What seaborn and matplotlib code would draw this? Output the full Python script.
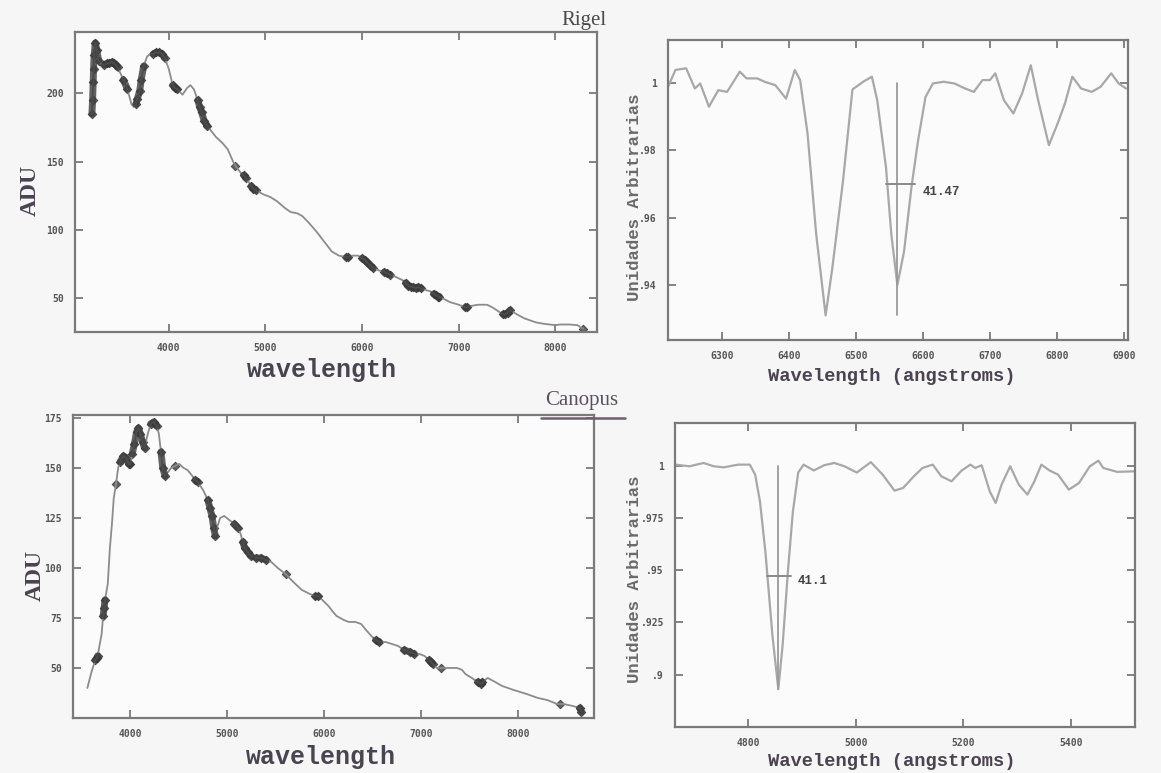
import numpy as np
import pandas as pd
import seaborn as sns
import matplotlib.pyplot as plt
from matplotlib.lines import Line2D

# %%
# Rigel, full spectrum (wavelength, ADU)
rigel_wl = [3205, 3212, 3218, 3222, 3228, 3240, 3255, 3275, 3310, 3335, 3360, 3385, 3411, 3430,
            3450, 3470, 3492, 3530, 3573, 3614, 3640, 3660, 3675, 3700, 3715, 3740, 3776, 3810,
            3840, 3870, 3898, 3930, 3959, 4000, 4041, 4065, 4090, 4142, 4190, 4224, 4260, 4300,
            4320, 4340, 4366, 4400, 4488, 4550, 4610, 4671, 4690, 4710, 4752, 4775, 4800, 4854,
            4875, 4900, 4976, 5050, 5118, 5200, 5260, 5330, 5382, 5450, 5524, 5600, 5687, 5760,
            5829, 5850, 5900, 5960, 6000, 6025, 6050, 6080, 6114, 6180, 6230, 6256, 6290, 6330,
            6419, 6450, 6480, 6505, 6530, 6555, 6580, 6610, 6640, 6700, 6740, 6764, 6790, 6800,
            6906, 7000, 7069, 7090, 7120, 7200, 7293, 7350, 7435, 7460, 7480, 7505, 7530, 7600,
            7679, 7800, 7882, 8000, 8045, 8150, 8228, 8270, 8290]
rigel_adu = [185, 195, 208, 218, 228, 237, 232, 224, 221, 221, 222, 222, 223, 222,
             221, 219, 216, 210, 203, 192, 190, 192, 196, 202, 210, 220, 227, 229,
             229, 230, 230, 229, 226, 218, 206, 204, 203, 199, 204, 206, 203, 195,
             190, 186, 180, 176, 168, 164, 159, 149, 147, 145, 141, 140, 138, 132,
             130, 129, 126, 124, 121, 116, 113, 112, 110, 105, 99, 92, 84, 81,
             80, 80, 81, 81, 79, 78, 76, 74, 72, 70, 69, 68, 67, 66,
             63, 61, 59, 58, 58, 57, 58, 57, 56, 55, 53, 52, 51, 51,
             47, 45, 43, 43, 44, 45, 45, 43, 39, 38, 38, 39, 41, 38,
             35, 32, 31, 30, 30.5, 30.5, 30, 28, 27.5]
rigel_marked = [(3205, 3300), (3330, 3470), (3520, 3600), (3660, 3740), (3820, 3960),
                (4030, 4100), (4290, 4400), (4680, 4700), (4760, 4800), (4850, 4900),
                (5820, 5860), (5990, 6120), (6230, 6300), (6440, 6620), (6740, 6800),
                (7060, 7100), (7450, 7530), (8280, 8300)]

# Canopus, full spectrum (wavelength, ADU)
canopus_wl = [3558, 3600, 3640, 3655, 3663, 3705, 3720, 3730, 3739, 3768, 3790, 3811, 3830,
              3853, 3875, 3895, 3930, 3958, 3985, 4000, 4020, 4042, 4065, 4084, 4105, 4126,
              4147, 4180, 4210, 4240, 4274, 4295, 4316, 4335, 4358, 4390, 4421, 4460, 4505,
              4550, 4589, 4640, 4670, 4695, 4750, 4800, 4820, 4842, 4860, 4876, 4900, 4926,
              4968, 5020, 5074, 5110, 5137, 5160, 5179, 5210, 5242, 5300, 5347, 5400, 5453,
              5520, 5600, 5680, 5768, 5850, 5900, 5937, 6000, 6042, 6090, 6126, 6200, 6253,
              6320, 6379, 6430, 6484, 6530, 6568, 6630, 6695, 6760, 6821, 6880, 6926, 6980,
              7032, 7080, 7100, 7116, 7160, 7200, 7280, 7368, 7420, 7453, 7520, 7580, 7610,
              7630, 7684, 7760, 7832, 7950, 8084, 8200, 8295, 8400, 8430, 8463, 8560, 8632,
              8650]
canopus_adu = [40, 48, 54, 55, 56, 67, 76, 80, 84, 92, 110, 122, 135,
               142, 150, 153, 156, 155, 152, 152, 157, 162, 168, 170, 167, 163,
               160, 167, 172, 173, 171, 167, 158, 150, 146, 148, 150, 151, 152,
               150, 149, 146, 144, 143, 139, 134, 130, 126, 120, 116, 121, 125,
               126, 124, 122, 120, 117, 113, 110, 108, 106, 105, 105, 104, 103,
               100, 97, 93, 89, 87, 86, 86, 83, 81, 78, 76, 74, 73,
               73, 72, 69, 66, 64, 63, 63, 62, 61, 59, 58, 57, 57,
               56, 54, 53, 52, 50, 50, 50, 50, 49, 47, 45, 43, 42,
               43, 45, 43, 41, 39, 37, 35, 34, 32, 32, 32, 31, 30,
               28]
canopus_marked = [(3640, 3670), (3720, 3745), (3840, 3870), (3880, 4000), (4020, 4160),
                  (4200, 4290), (4300, 4380), (4430, 4470), (4650, 4700), (4800, 4890),
                  (5050, 5130), (5150, 5250), (5280, 5450), (5580, 5620), (5880, 5960),
                  (6500, 6600), (6780, 6960), (7080, 7120), (7190, 7210), (7580, 7650),
                  (8420, 8450), (8630, 8660)]

# Rigel, H-alpha region (normalised)
ha_wl = [6220, 6231, 6247, 6260, 6268, 6281, 6295, 6308, 6316, 6327, 6337, 6353, 6364, 6380,
         6396, 6409, 6417, 6428, 6441, 6455, 6465, 6481, 6495, 6511, 6524, 6532, 6545, 6553,
         6562, 6572, 6583, 6593, 6604, 6615, 6631, 6647, 6663, 6676, 6689, 6700, 6708, 6721,
         6735, 6748, 6761, 6772, 6788, 6801, 6812, 6823, 6836, 6852, 6865, 6881, 6892, 6903]
ha_flux = [0.9988, 1.0038, 1.0043, 0.9983, 0.9998, 0.9929, 0.9978, 0.9973, 0.9998, 1.0033,
           1.0013, 1.0013, 1.0003, 0.9993, 0.9953, 1.0038, 1.0008, 0.985, 0.955, 0.931,
           0.945, 0.971, 0.998, 1.0003, 1.0018, 0.9948, 0.975, 0.955, 0.9400, 0.950,
           0.969, 0.983, 0.9958, 0.9998, 1.0003, 0.9998, 0.9983, 0.9973, 1.0008, 1.0008,
           1.0028, 0.9948, 0.9909, 0.9968, 1.0052, 0.9948, 0.9815, 0.9879, 0.9939, 1.0018,
           0.9983, 0.9973, 0.9988, 1.0028, 0.9998, 0.9983]
ha_center = 6562
ha_fwhm_lo, ha_fwhm_hi, ha_half = 6545, 6588, 0.9699
ha_label = "41.47"

# Canopus, H-beta region (normalised)
hb_wl = [4665, 4691, 4717, 4736, 4755, 4781, 4803, 4813, 4822, 4832, 4845, 4856, 4864, 4874,
         4883, 4893, 4903, 4922, 4941, 4960, 4979, 5002, 5028, 5050, 5072, 5088, 5108, 5124,
         5143, 5159, 5178, 5197, 5213, 5222, 5234, 5249, 5260, 5271, 5287, 5303, 5319, 5332,
         5345, 5360, 5376, 5396, 5415, 5435, 5451, 5460, 5486, 5518]
hb_flux = [1.0008, 1.0, 1.0016, 1.0, 0.9995, 1.0008, 1.0008, 0.996, 0.983, 0.959, 0.919,
           0.893, 0.914, 0.950, 0.978, 0.997, 1.0008, 0.998, 1.0005, 1.0016, 1.0, 0.997,
           1.002, 0.996, 0.9883, 0.9896, 0.9952, 0.9992, 1.0008, 0.9952, 0.9928, 0.998,
           1.0008, 0.9992, 1.0005, 0.988, 0.9824, 0.9912, 1.0, 0.9912, 0.9864, 0.9928,
           1.0008, 0.998, 0.996, 0.9888, 0.992, 1.0, 1.0027, 0.9992, 0.9973, 0.9976]
hb_center = 4856
hb_fwhm_lo, hb_fwhm_hi, hb_half = 4835, 4880, 0.9471
hb_label = "41.1"

# %%
sns.set_theme(style="ticks")
plt.rcParams["font.family"] = ["DejaVu Sans Mono", "DejaVu Sans"]

frame_c = "#7a7a7a"
line_c = "#8c8c8c"
mark_c = "#3c3c3c"
text_c = "#4a4450"

fig = plt.figure(figsize=(11.61, 7.73), dpi=100, facecolor="#f6f6f6")
ax1 = fig.add_axes([0.0646, 0.5705, 0.4496, 0.3881])
ax2 = fig.add_axes([0.5754, 0.5602, 0.3962, 0.3881])
ax3 = fig.add_axes([0.0629, 0.0712, 0.4488, 0.3920])
ax4 = fig.add_axes([0.5814, 0.0595, 0.3962, 0.3933])


def style_axes(ax):
    ax.set_facecolor("#fbfbfb")
    for sp in ax.spines.values():
        sp.set_color(frame_c)
        sp.set_linewidth(1.6)
    ax.tick_params(direction="in", top=True, right=True, length=6, width=1.3,
                   color=frame_c, labelcolor="#555555", labelsize=7, pad=8)
    for lab in ax.get_xticklabels() + ax.get_yticklabels():
        lab.set_fontweight("bold")


def full_spectrum(ax, wl, adu, marked):
    df = pd.DataFrame({"wl": wl, "adu": adu})
    sns.lineplot(data=df, x="wl", y="adu", sort=False, estimator=None,
                 color=line_c, lw=1.3, ax=ax)
    for lo, hi in marked:
        seg = df[(df.wl >= lo) & (df.wl <= hi)]
        if len(seg) > 1:
            ax.plot(seg.wl, seg.adu, color=mark_c, lw=5, alpha=0.8,
                    solid_capstyle="round")
        sns.scatterplot(data=seg, x="wl", y="adu", marker="D", s=20,
                        color=mark_c, edgecolor="#222222", linewidth=0.5,
                        alpha=0.8, ax=ax, legend=False)
    ax.set_xlabel("wavelength", fontsize=18, fontweight="bold", color=text_c,
                  family="Liberation Mono", va="center")
    ax.set_ylabel("ADU", fontsize=17, fontweight="bold", color=text_c,
                  family="Liberation Serif", va="center")


def line_region(ax, wl, flux, center, lo, hi, half, label):
    df = pd.DataFrame({"wl": wl, "flux": flux})
    sns.lineplot(data=df, x="wl", y="flux", sort=False, estimator=None,
                 color="#a8a8a8", lw=1.6, ax=ax)
    ax.plot([center, center], [1.0, min(flux)], color="#9a9a9a", lw=1.3)
    ax.plot([lo, hi], [half, half], color="#8a8a8a", lw=1.4)
    ax.text(hi + 12, half - 0.0023, label, fontsize=9, fontweight="bold",
            color="#444444", va="center", ha="left", family="Liberation Mono")
    ax.set_xlabel("Wavelength (angstroms)", fontsize=13.5, fontweight="bold",
                  color=text_c, family="Liberation Mono", va="center")
    ax.set_ylabel("Unidades Arbitrarias", fontsize=12.5, fontweight="bold",
                  color="#6a6a6a", family="Liberation Mono", va="center")


# %%
full_spectrum(ax1, rigel_wl, rigel_adu, rigel_marked)
ax1.set_xlim(3030, 8430)
ax1.set_ylim(25, 245)
ax1.set_xticks([4000, 5000, 6000, 7000, 8000])
ax1.set_yticks([50, 100, 150, 200])
ax1.xaxis.set_label_coords(0.473, -0.127)
ax1.yaxis.set_label_coords(-0.086, 0.473)
style_axes(ax1)

full_spectrum(ax3, canopus_wl, canopus_adu, canopus_marked)
ax3.set_xlim(3410, 8780)
ax3.set_ylim(25, 176.5)
ax3.set_xticks([4000, 5000, 6000, 7000, 8000])
ax3.set_yticks([50, 75, 100, 125, 150, 175])
ax3.xaxis.set_label_coords(0.476, -0.129)
ax3.yaxis.set_label_coords(-0.073, 0.472)
style_axes(ax3)

line_region(ax2, ha_wl, ha_flux, ha_center, ha_fwhm_lo, ha_fwhm_hi, ha_half, ha_label)
ax2.set_xlim(6220, 6906)
ax2.set_ylim(0.9237, 1.0127)
ax2.set_xticks([6300, 6400, 6500, 6600, 6700, 6800, 6900])
ax2.set_yticks([0.94, 0.96, 0.98, 1.0])
ax2.set_yticklabels([".94", ".96", ".98", "1"])
ax2.xaxis.set_label_coords(0.487, -0.123)
ax2.yaxis.set_label_coords(-0.074, 0.477)
style_axes(ax2)

line_region(ax4, hb_wl, hb_flux, hb_center, hb_fwhm_lo, hb_fwhm_hi, hb_half, hb_label)
ax4.set_xlim(4664, 5519)
ax4.set_ylim(0.8748, 1.0208)
ax4.set_xticks([4800, 5000, 5200, 5400])
ax4.set_yticks([0.9, 0.925, 0.95, 0.975, 1.0])
ax4.set_yticklabels([".9", ".925", ".95", ".975", "1"])
ax4.xaxis.set_label_coords(0.472, -0.115)
ax4.yaxis.set_label_coords(-0.089, 0.487)
style_axes(ax4)

# star names
fig.text(607 / 1161, 1 - 21 / 773, "Rigel", ha="right", va="center", fontsize=15,
         color="#4a4a4a", family="Liberation Serif")
fig.text(582 / 1161, 1 - 401 / 773, "Canopus", ha="center", va="center", fontsize=15,
         color="#5a5060", family="Liberation Serif")
fig.add_artist(Line2D([541 / 1161, 625 / 1161], [1 - 418 / 773, 1 - 418 / 773],
                      color="#6a6070", lw=1.8))

fig.savefig("out.png", dpi=100, facecolor=fig.get_facecolor())
